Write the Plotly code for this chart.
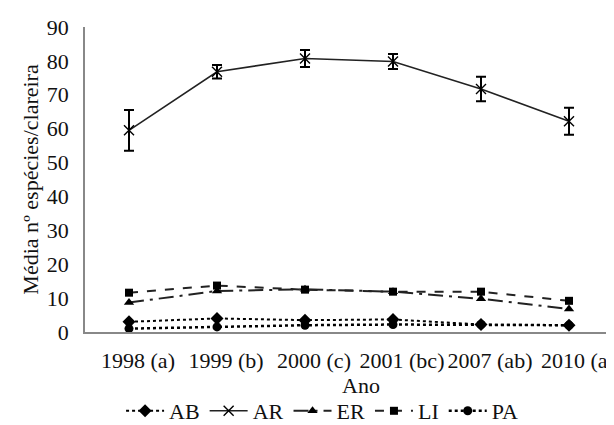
import plotly.graph_objects as go

categories = ["1998 (a)", "1999 (b)", "2000 (c)", "2001 (bc)", "2007 (ab)", "2010 (a)"]
AB = [3.0, 4.0, 3.5, 3.7, 2.2, 2.0]
AR = [59.5, 76.8, 80.7, 79.8, 71.7, 62.2]
AR_err = [6.0, 2.0, 2.5, 2.2, 3.6, 4.0]
ER = [8.7, 12.1, 12.6, 11.9, 9.8, 6.8]
LI = [11.6, 13.7, 12.5, 11.9, 11.9, 9.2]
PA = [1.0, 1.5, 2.0, 2.2, 2.2, 2.0]
y_ticks = [0, 10, 20, 30, 40, 50, 60, 70, 80, 90]

font_family = "Liberation Serif, serif"

fig = go.Figure()
fig.add_trace(go.Scatter(x=categories, y=AB, name="AB", mode="lines+markers",
                         line=dict(color="black", width=2, dash="dot"),
                         marker=dict(symbol="diamond", size=10, color="black")))
fig.add_trace(go.Scatter(x=categories, y=AR, name="AR", mode="lines+markers",
                         line=dict(color="#222222", width=1.6),
                         marker=dict(symbol="x-thin", size=10, color="black",
                                     line=dict(width=1.4, color="black")),
                         error_y=dict(type="data", array=AR_err, visible=True,
                                      color="black", thickness=2, width=5)))
fig.add_trace(go.Scatter(x=categories, y=ER, name="ER", mode="lines+markers",
                         line=dict(color="#222222", width=2, dash="longdashdot"),
                         marker=dict(symbol="triangle-up", size=9, color="black")))
fig.add_trace(go.Scatter(x=categories, y=LI, name="LI", mode="lines+markers",
                         line=dict(color="#222222", width=2, dash="dash"),
                         marker=dict(symbol="square", size=8, color="black")))
fig.add_trace(go.Scatter(x=categories, y=PA, name="PA", mode="lines+markers",
                         line=dict(color="black", width=2.5, dash="dot"),
                         marker=dict(symbol="circle", size=9, color="black")))

fig.update_layout(
    width=614, height=425,
    margin=dict(l=77, r=9, t=19, b=101, autoexpand=False),
    paper_bgcolor="white", plot_bgcolor="white",
    font=dict(family=font_family, size=22, color="#111111"),
    showlegend=True,
    legend=dict(orientation="h", x=0.449, xanchor="center", y=-0.259, yanchor="middle",
                font=dict(size=22), itemwidth=38, tracegroupgap=0,
                traceorder="normal", bgcolor="rgba(0,0,0,0)"),
    annotations=[dict(text="Ano", x=0.523, y=-0.175, xref="paper", yref="paper",
                      showarrow=False, xanchor="center", yanchor="middle",
                      font=dict(size=22, family=font_family))],
)
fig.update_xaxes(
    type="category", range=[-0.5, 5.5], showline=True, linecolor="#888888", linewidth=1.5,
    ticks="", showgrid=False, zeroline=False, tickangle=0,
    tickfont=dict(size=22), ticklabelstandoff=8, ticklabelshift=9,
)
fig.update_yaxes(
    range=[0, 90], tickvals=y_ticks, showline=True, linecolor="#888888",
    linewidth=1.5, ticks="", showgrid=False, zeroline=False,
    title=dict(text="Média nº espécies/clareira", font=dict(size=22), standoff=2),
    tickfont=dict(size=22), ticklabelstandoff=10,
)

fig.write_html("out.html")
